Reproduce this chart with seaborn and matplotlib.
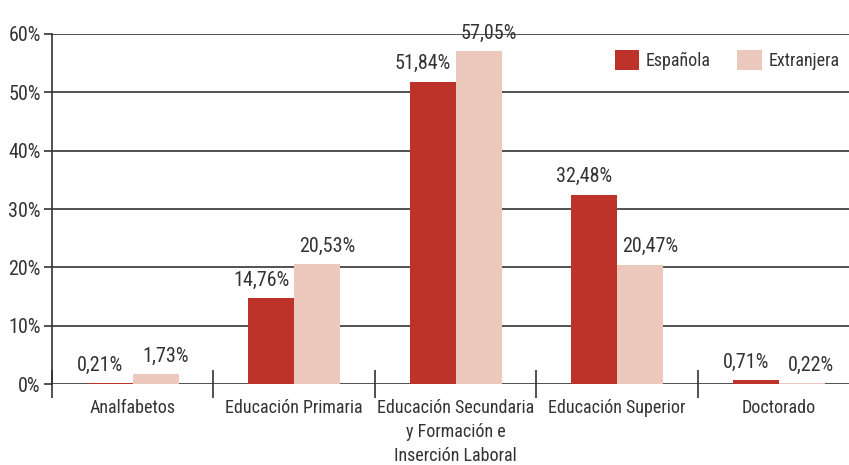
import numpy as np
import pandas as pd
import matplotlib
matplotlib.use("Agg")
import matplotlib.pyplot as plt
from matplotlib import font_manager
import seaborn as sns

# datos
categorias = ["Analfabetos", "Educación Primaria",
              "Educación Secundaria\ny Formación e\nInserción Laboral",
              "Educación Superior", "Doctorado"]
espanola = [0.21, 14.76, 51.84, 32.48, 0.71]
extranjera = [1.73, 20.53, 57.05, 20.47, 0.22]
series = ["Española", "Extranjera"]
colores = ["#BE3329", "#ECC9BC"]

df = pd.DataFrame({
    "categoria": categorias * 2,
    "valor": espanola + extranjera,
    "nacionalidad": [series[0]] * len(categorias) + [series[1]] * len(categorias),
})

sns.set_theme(style="white")
# fuente estrecha si existe
nombres = {f.name for f in font_manager.fontManager.ttflist}
narrow = [n for n in ["DejaVu Sans Condensed", "Liberation Sans Narrow", "Roboto Condensed",
                      "Open Sans Condensed"] if n in nombres]
plt.rcParams["font.family"] = narrow + ["Roboto", "DejaVu Sans"]
plt.rcParams["text.color"] = "#333333"

fs_num = 14.5   # numeros
fs_txt = 13     # palabras
fig = plt.figure(figsize=(8.49, 4.65), dpi=100)
ax = fig.add_axes([0.0612, 0.174, 0.951, 0.753])

sns.barplot(data=df, x="categoria", y="valor", hue="nacionalidad",
            palette=colores, width=0.57, gap=0, saturation=1,
            edgecolor="none", ax=ax, zorder=3)

# etiquetas de valor
for k, cont in enumerate(ax.containers):
    off = -0.06 if k == 0 else 0.06
    for bar, v in zip(cont, [espanola, extranjera][k]):
        x = bar.get_x() + bar.get_width() / 2 + off
        ax.annotate(f"{v:.2f}%".replace(".", ","), (x, v),
                    xytext=(0, 6), textcoords="offset points",
                    ha="center", va="bottom", fontsize=fs_num, color="#333333")

ax.set_ylim(0, 60)
ax.set_xlim(-0.5, 4.5)
ax.set_yticks(np.arange(0, 61, 10))
ax.set_yticklabels([f"{t}%" for t in range(0, 61, 10)])
ax.yaxis.grid(True, color="#333333", linewidth=1.2, zorder=0)
ax.set_axisbelow(True)

# ticks de categoria
ax.set_xticks(range(len(categorias)))
ax.set_xticklabels(categorias, fontsize=fs_txt, color="#333333", linespacing=1.42)
ax.tick_params(axis="x", length=0, pad=11)
ax.set_xticks(np.arange(-0.5, 4.6, 1), minor=True)
ax.tick_params(axis="x", which="minor", direction="inout", length=20,
               width=1.2, color="#333333", bottom=True)
ax.tick_params(axis="y", left=True, length=6, width=1.2, color="#333333",
               labelsize=fs_num, labelcolor="#333333", pad=2)

for s in ["top", "right", "bottom"]:
    ax.spines[s].set_visible(False)
ax.spines["left"].set_color("#333333")
ax.spines["left"].set_linewidth(1.2)

ax.set_xlabel("")
ax.set_ylabel("")

ax.legend(loc="upper right", bbox_to_anchor=(0.985, 0.975), ncol=2, frameon=False,
          fontsize=fs_txt, handlelength=1.35, handleheight=1.35, columnspacing=1.45,
          handletextpad=0.4, borderaxespad=0)

fig.savefig("out.png", dpi=100)
